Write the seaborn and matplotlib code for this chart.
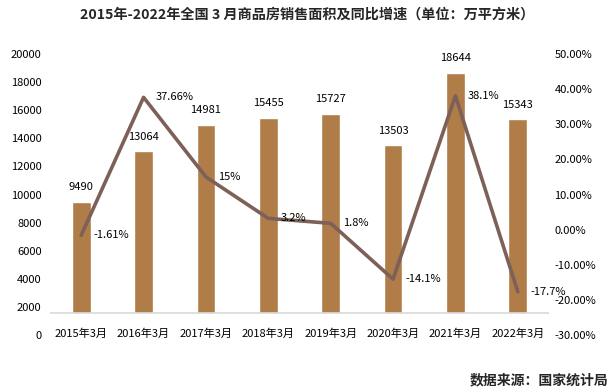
import numpy as np
import pandas as pd
import matplotlib
matplotlib.use("Agg")
import matplotlib.pyplot as plt
import matplotlib.transforms as mtransforms
import seaborn as sns

# 数据：全国3月商品房销售面积（万平方米）及同比增速
years = ["2015年3月", "2016年3月", "2017年3月", "2018年3月",
         "2019年3月", "2020年3月", "2021年3月", "2022年3月"]
area = [9490, 13064, 14981, 15455, 15727, 13503, 18644, 15343]
growth = [-1.61, 37.66, 15.0, 3.2, 1.8, -14.1, 38.1, -17.7]
growth_labels = ["-1.61%", "37.66%", "15%", "3.2%", "1.8%", "-14.1%", "38.1%", "-17.7%"]

left_ticks = list(range(0, 20001, 2000))
right_ticks = list(range(-30, 51, 10))

sns.set_theme(style="white")
plt.rcParams['font.family'] = ['Noto Sans CJK SC', 'DejaVu Sans']
plt.rcParams['axes.unicode_minus'] = False

bar_color = "#b07d48"
line_color = "#7d6057"

df = pd.DataFrame({"年份": years, "面积": area, "增速": growth})

fig = plt.figure(figsize=(6.15, 3.91), dpi=100)
ax1 = fig.add_axes([0.0813, 0.1432, 0.8114, 0.7187])

sns.barplot(data=df, x="年份", y="面积", ax=ax1, color=bar_color,
            width=0.3, saturation=1)
ax1.set_ylim(0, 20000)
ax1.set_yticks(left_ticks)
ax1.set_xlim(-0.5, len(years) - 0.5)
ax1.set_xlabel("")
ax1.set_ylabel("")

# Excel 风格：横轴落在 2000 附近，下方留白
ax1.axhspan(0, 1566, color="white", zorder=2)
ax1.axhline(1566, color="#d9d9d9", linewidth=1.2, zorder=3)

for i, v in enumerate(df["面积"]):
    ax1.annotate(str(v), (i, v), xytext=(0, 7), textcoords="offset points",
                 ha="center", va="bottom", fontsize=8, color="black")

# 类别标签画在留白区域内
ax1.set_xticklabels([])
ax1.tick_params(axis="x", length=0)
trans = mtransforms.blended_transform_factory(ax1.transData, ax1.transAxes)
for i, lab in enumerate(years):
    ax1.text(i, 0.005, lab, transform=trans, ha="center", va="center",
             fontsize=8, color="black", zorder=6)

ax1.tick_params(axis="y", length=0, pad=6, labelsize=8, colors="black")

# 同比增速折线
ax2 = ax1.twinx()
sns.lineplot(x=np.arange(len(years)), y=df["增速"], ax=ax2,
             color=line_color, linewidth=2.6)
ax2.set_ylim(-30, 50)
ax2.set_yticks(right_ticks)
ax2.set_yticklabels([f"{t:.2f}%" for t in right_ticks])
ax2.set_ylabel("")
ax2.tick_params(axis="y", length=0, pad=4, labelsize=8, colors="black")
ax2.set_xlim(-0.5, len(years) - 0.5)

for i, (g, lab) in enumerate(zip(growth, growth_labels)):
    ax2.annotate(lab, (i, g), xytext=(9, 0), textcoords="offset points",
                 ha="left", va="center", fontsize=8, color="black")

for ax in (ax1, ax2):
    for s in ax.spines.values():
        s.set_visible(False)
    ax.grid(False)

fig.text(0.5, 0.962, "2015年-2022年全国 3 月商品房销售面积及同比增速（单位：万平方米）",
         ha="center", va="center", fontsize=10.2, fontweight="bold")
fig.text(0.99, 0.028, "数据来源：国家统计局", ha="right", va="center",
         fontsize=10, fontweight="bold")

fig.savefig("out.png", dpi=100)
